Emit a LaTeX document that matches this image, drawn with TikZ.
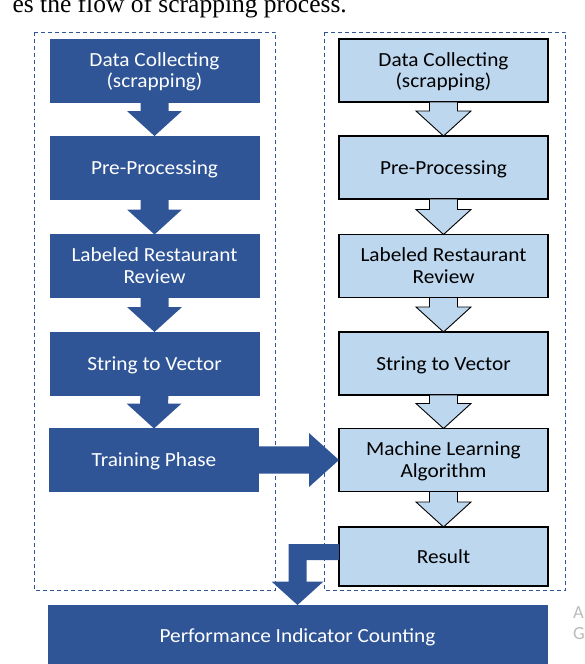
\documentclass[tikz,border=0pt]{standalone}
\usepackage{fontspec}
\setmainfont{Carlito}[FakeStretch=1.065]
\newfontfamily\sidefont{Carlito}
\newfontfamily\capfont{Liberation Serif}
\usetikzlibrary{calc}
\definecolor{dblue}{HTML}{2F5597}
\definecolor{lblue}{HTML}{BDD7EE}
\definecolor{fadegray}{HTML}{BBBBBB}
\newcommand\twolines[2]{\begin{tabular}[t]{@{}c@{}}#1\\#2\end{tabular}}
\newcommand\downarr[3]{%
  \path[#1] ($(#2.south)+(-14,0)$) -- ($(#3.north)+(-14,-25)$) -- ($(#3.north)+(-27.5,-25)$)
    -- (#3.north) -- ($(#3.north)+(27.5,-25)$) -- ($(#3.north)+(14,-25)$)
    -- ($(#2.south)+(14,0)$) -- cycle;}
\begin{document}
\begin{tikzpicture}[x=1pt,y=-1pt,
  boxbase/.style={minimum width=209pt,minimum height=63pt,inner sep=0pt,outer sep=0pt,
    font=\fontsize{20}{21.5}\selectfont,text height=19.1pt,text depth=5.5pt},
  two/.style={text height=16pt,text depth=25pt},
  lbox/.style={boxbase,fill=dblue,draw=dblue,text=white},
  rbox/.style={boxbase,fill=lblue,draw=black,line width=1.2pt,text=black},
  frame/.style={draw=dblue,line width=0.9pt,dash pattern=on 4pt off 3pt},
  larrow/.style={fill=dblue},
  rarrow/.style={fill=lblue,draw=black,line width=0.9pt,line join=miter}]
\useasboundingbox (0,0) rectangle (584,664);
% caption fragment
\node[anchor=base east,inner sep=0pt,font=\capfont\fontsize{25.5}{28}\selectfont] (cap) at (347,12) {es the flow of scrapping process.};
% left column
\node[lbox,two] (l1) at (154.5,70.5) {\twolines{Data Collecting}{(scrapping)}};
\node[lbox] (l2) at (154.5,167.5) {Pre-Processing};
\node[lbox,two] (l3) at (154.5,266) {\twolines{Labeled Restaurant}{Review}};
\node[lbox] (l4) at (154.5,363.5) {String to Vector};
\node[lbox] (l5) at (154,460) {Training Phase};
% right column
\node[rbox,two] (r1) at (443.5,70.5) {\twolines{Data Collecting}{(scrapping)}};
\node[rbox] (r2) at (443.5,167.5) {Pre-Processing};
\node[rbox,two] (r3) at (443.5,266) {\twolines{Labeled Restaurant}{Review}};
\node[rbox] (r4) at (443.5,363.5) {String to Vector};
\node[rbox,two] (r5) at (443.5,460) {\twolines{Machine Learning}{Algorithm}};
\node[rbox,minimum height=59pt] (r6) at (443.5,556.5) {Result};
% bottom box
\node[lbox,minimum width=498.4pt,minimum height=62pt] (perf) at (297.5,636) {Performance Indicator Counting};
% side fragments
\node[anchor=north west,inner sep=0pt,text=fadegray,align=left,font=\sidefont\fontsize{18.5}{21}\selectfont] (side) at (573,606) {A\\G};
% arrows left
\downarr{larrow}{l1}{l2}
\downarr{larrow}{l2}{l3}
\downarr{larrow}{l3}{l4}
\downarr{larrow}{l4}{l5}
% arrows right
\downarr{rarrow}{r1}{r2}
\downarr{rarrow}{r2}{r3}
\downarr{rarrow}{r3}{r4}
\downarr{rarrow}{r4}{r5}
\downarr{rarrow}{r5}{r6}
% horizontal arrow
\path[larrow] ($(l5.east)+(0,-13.7)$) -- ($(r5.west)+(-30,-13.7)$) -- ($(r5.west)+(-30,-27)$)
  -- (r5.west) -- ($(r5.west)+(-30,27)$) -- ($(r5.west)+(-30,13.7)$) -- ($(l5.east)+(0,13.7)$) -- cycle;
% bent arrow
\coordinate (s1) at ($(r6.west)+(0,-12.5)$);
\coordinate (s2) at ($(r6.west)+(0,3.5)$);
\coordinate (bt) at (perf.north);
\path[larrow] (s1) -- ($(bt |- s1)+(-9,0)$) -- ($(bt)+(-9,-23.5)$) -- ($(bt)+(-26,-23.5)$)
  -- (bt) -- ($(bt)+(26,-23.5)$) -- ($(bt)+(9,-23.5)$) -- ($(bt |- s2)+(9,0)$) -- (s2) -- cycle;
% dashed frames
\draw[frame] (34.5,32) rectangle (275.5,590.5);
\draw[frame] (324.5,32) rectangle (565.5,590.5);
\end{tikzpicture}
\end{document}
